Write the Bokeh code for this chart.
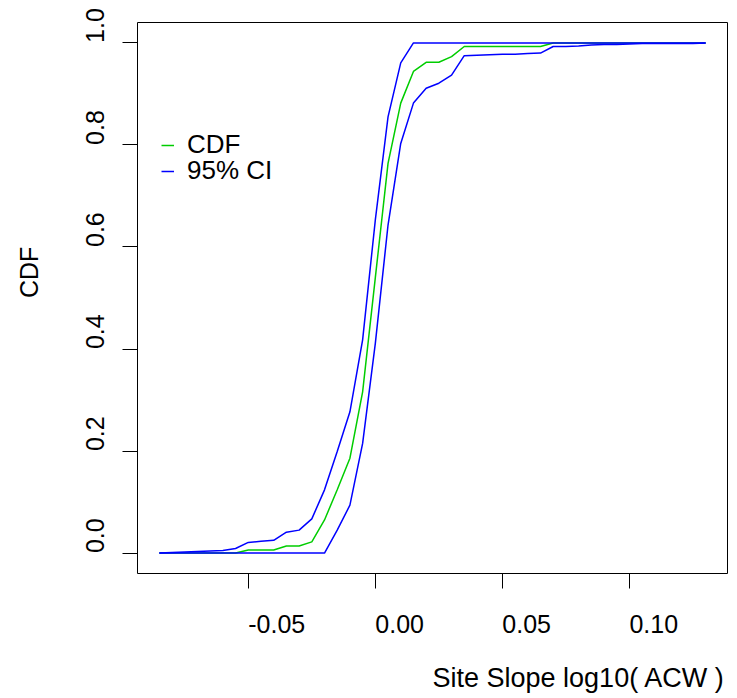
import math
from bokeh.plotting import figure
from bokeh.models import (Range1d, FixedTicker, Legend, LegendItem, CustomJSTickFormatter,
                          LinearAxis, Title)
from bokeh.embed import file_html
from bokeh.resources import INLINE

# ---- data ----
x_vals = [-0.085, -0.080, -0.075, -0.070, -0.065, -0.060, -0.055, -0.050, -0.045, -0.040,
          -0.035, -0.030, -0.025, -0.020, -0.015, -0.010, -0.005, 0.000, 0.005, 0.010,
          0.015, 0.020, 0.025, 0.030, 0.035, 0.040, 0.045, 0.050, 0.055, 0.060,
          0.065, 0.070, 0.075, 0.080, 0.085, 0.090, 0.095, 0.100, 0.105, 0.110,
          0.115, 0.120, 0.125, 0.130]

cdf = [0.0, 0.0, 0.0, 0.0, 0.0, 0.0, 0.0, 0.006, 0.006, 0.006,
       0.014, 0.014, 0.022, 0.065, 0.124, 0.186, 0.316, 0.540, 0.764, 0.882,
       0.944, 0.962, 0.962, 0.973, 0.993, 0.993, 0.993, 0.993, 0.993, 0.993,
       0.993, 1.0, 1.0, 1.0, 1.0, 1.0, 1.0, 1.0, 1.0, 1.0,
       1.0, 1.0, 1.0, 1.0]

ci_upper = [0.0, 0.001, 0.002, 0.003, 0.004, 0.005, 0.009, 0.021, 0.023, 0.025,
            0.041, 0.045, 0.067, 0.124, 0.199, 0.277, 0.418, 0.653, 0.855, 0.961,
            1.0, 1.0, 1.0, 1.0, 1.0, 1.0, 1.0, 1.0, 1.0, 1.0,
            1.0, 1.0, 1.0, 1.0, 1.0, 1.0, 1.0, 1.0, 1.0, 1.0,
            1.0, 1.0, 1.0, 1.0]

ci_lower = [0.0, 0.0, 0.0, 0.0, 0.0, 0.0, 0.0, 0.0, 0.0, 0.0,
            0.0, 0.0, 0.0, 0.0, 0.045, 0.094, 0.215, 0.411, 0.643, 0.803,
            0.882, 0.911, 0.921, 0.937, 0.975, 0.976, 0.977, 0.978, 0.978, 0.979,
            0.980, 0.993, 0.993, 0.994, 0.996, 0.997, 0.997, 0.998, 0.999, 0.999,
            0.999, 0.999, 0.999, 1.0]

x_ticks = [-0.05, 0.0, 0.05, 0.10]
x_tick_labels = ["-0.05", "0.00", "0.05", "0.10"]
y_ticks = [0.0, 0.2, 0.4, 0.6, 0.8, 1.0]
y_tick_labels = ["0.0", "0.2", "0.4", "0.6", "0.8", "1.0"]

x_title = "Site Slope log10( ACW )"
y_title = "CDF"
legend_labels = ["CDF", "95% CI"]

GREEN = "#00CD00"
BLUE = "#0000FF"
FONT = "Liberation Sans"
TICK_FS = 25

# ---- ranges (R style 4% padding) ----
xmin, xmax = min(x_vals), max(x_vals)
xpad = 0.04 * (xmax - xmin)
xlo, xhi = xmin - xpad, xmax + xpad
ylo, yhi = -0.04, 1.04

W, H = 729, 698
BL, BR, BT, BB = 137, 2, 22, 125
FW = W - BL - BR
FH = H - BT - BB
ppx = FW / (xhi - xlo)
ppy = FH / (yhi - ylo)

# approximate advance widths (em) of Liberation Sans, used to start labels at the tick
CW = {".": 0.278, "-": 0.333}
def text_w(s, fs):
    return sum(CW.get(c, 0.556) for c in s) * fs

p = figure(width=W, height=H, output_backend="svg", toolbar_location=None,
           x_range=Range1d(xlo, xhi), y_range=Range1d(ylo, yhi),
           min_border_left=BL, min_border_right=BR, min_border_top=BT, min_border_bottom=BB)
p.grid.visible = False
p.outline_line_color = "black"
p.outline_line_width = 1
p.background_fill_color = "white"
p.border_fill_color = "white"

# axes carrying the tick marks only
for ax, ticks in ((p.xaxis, x_ticks), (p.yaxis, y_ticks)):
    ax.ticker = FixedTicker(ticks=ticks, minor_ticks=[])
    ax.formatter = CustomJSTickFormatter(code="return ''")
    ax.axis_line_color = None
    ax.major_tick_in = 0
    ax.major_tick_out = 15
    ax.major_tick_line_color = "black"
    ax.major_tick_line_width = 1
    ax.minor_tick_line_color = None
    ax.major_label_standoff = 0

LABEL_JS = """
let b = 0;
for (let i = 0; i < pos.length; i++) {
  if (Math.abs(pos[i] - tick) < Math.abs(pos[b] - tick)) { b = i; }
}
return labels[b];
"""

def label_axis(ticks, labels, pp, standoff, orient):
    pos = [t + text_w(s, TICK_FS) / 2 / pp for t, s in zip(ticks, labels)]
    return LinearAxis(ticker=FixedTicker(ticks=pos, minor_ticks=[]),
                      formatter=CustomJSTickFormatter(args=dict(pos=pos, labels=labels), code=LABEL_JS),
                      axis_line_color=None, major_tick_line_color=None, minor_tick_line_color=None,
                      major_tick_in=0, major_tick_out=0, major_label_standoff=standoff,
                      major_label_text_font=FONT, major_label_text_font_size=f"{TICK_FS}px",
                      major_label_text_color="black", major_label_orientation=orient)

def spacer_axis(size, mid):
    # an invisible axis that only reserves room between the tick labels and the title
    return LinearAxis(ticker=FixedTicker(ticks=[mid], minor_ticks=[]),
                      formatter=CustomJSTickFormatter(code="return ''"),
                      axis_line_color=None, major_tick_line_color=None, minor_tick_line_color=None,
                      major_tick_in=0, major_tick_out=size, minor_tick_in=0, minor_tick_out=0,
                      major_label_standoff=0)

p.add_layout(label_axis(x_ticks, x_tick_labels, ppx, 26, "horizontal"), "below")
p.add_layout(label_axis(y_ticks, y_tick_labels, ppy, 18, "vertical"), "left")
p.add_layout(spacer_axis(25, (xlo + xhi) / 2), "below")
p.add_layout(spacer_axis(36, (ylo + yhi) / 2), "left")

# axis titles start at the middle of the frame, as in the reference
p.add_layout(Title(text=x_title, align="left", offset=FW / 2, text_font=FONT,
                   text_font_size="27px", text_font_style="normal", text_color="black",
                   standoff=0), "below")
p.add_layout(Title(text=y_title, align="left", offset=FH / 2, text_font=FONT,
                   text_font_size="25px", text_font_style="normal", text_color="black",
                   standoff=10), "left")

r_cdf = p.line(x_vals, cdf, line_color=GREEN, line_width=1.5)
r_up = p.line(x_vals, ci_upper, line_color=BLUE, line_width=1.5)
r_lo = p.line(x_vals, ci_lower, line_color=BLUE, line_width=1.5)

def make_legend(label, renderer, vy):
    return Legend(items=[LegendItem(label=label, renderers=[renderer])],
                  location=(24, vy), padding=0, spacing=0, glyph_width=13, glyph_height=20,
                  label_standoff=13, label_text_font=FONT, label_text_font_size="26px",
                  label_text_color="black", border_line_color=None,
                  background_fill_alpha=0, margin=0)

p.add_layout(make_legend(legend_labels[0], r_cdf, 413))
p.add_layout(make_legend(legend_labels[1], r_up, 387))

open("out.html", "w").write(file_html(p, INLINE))
